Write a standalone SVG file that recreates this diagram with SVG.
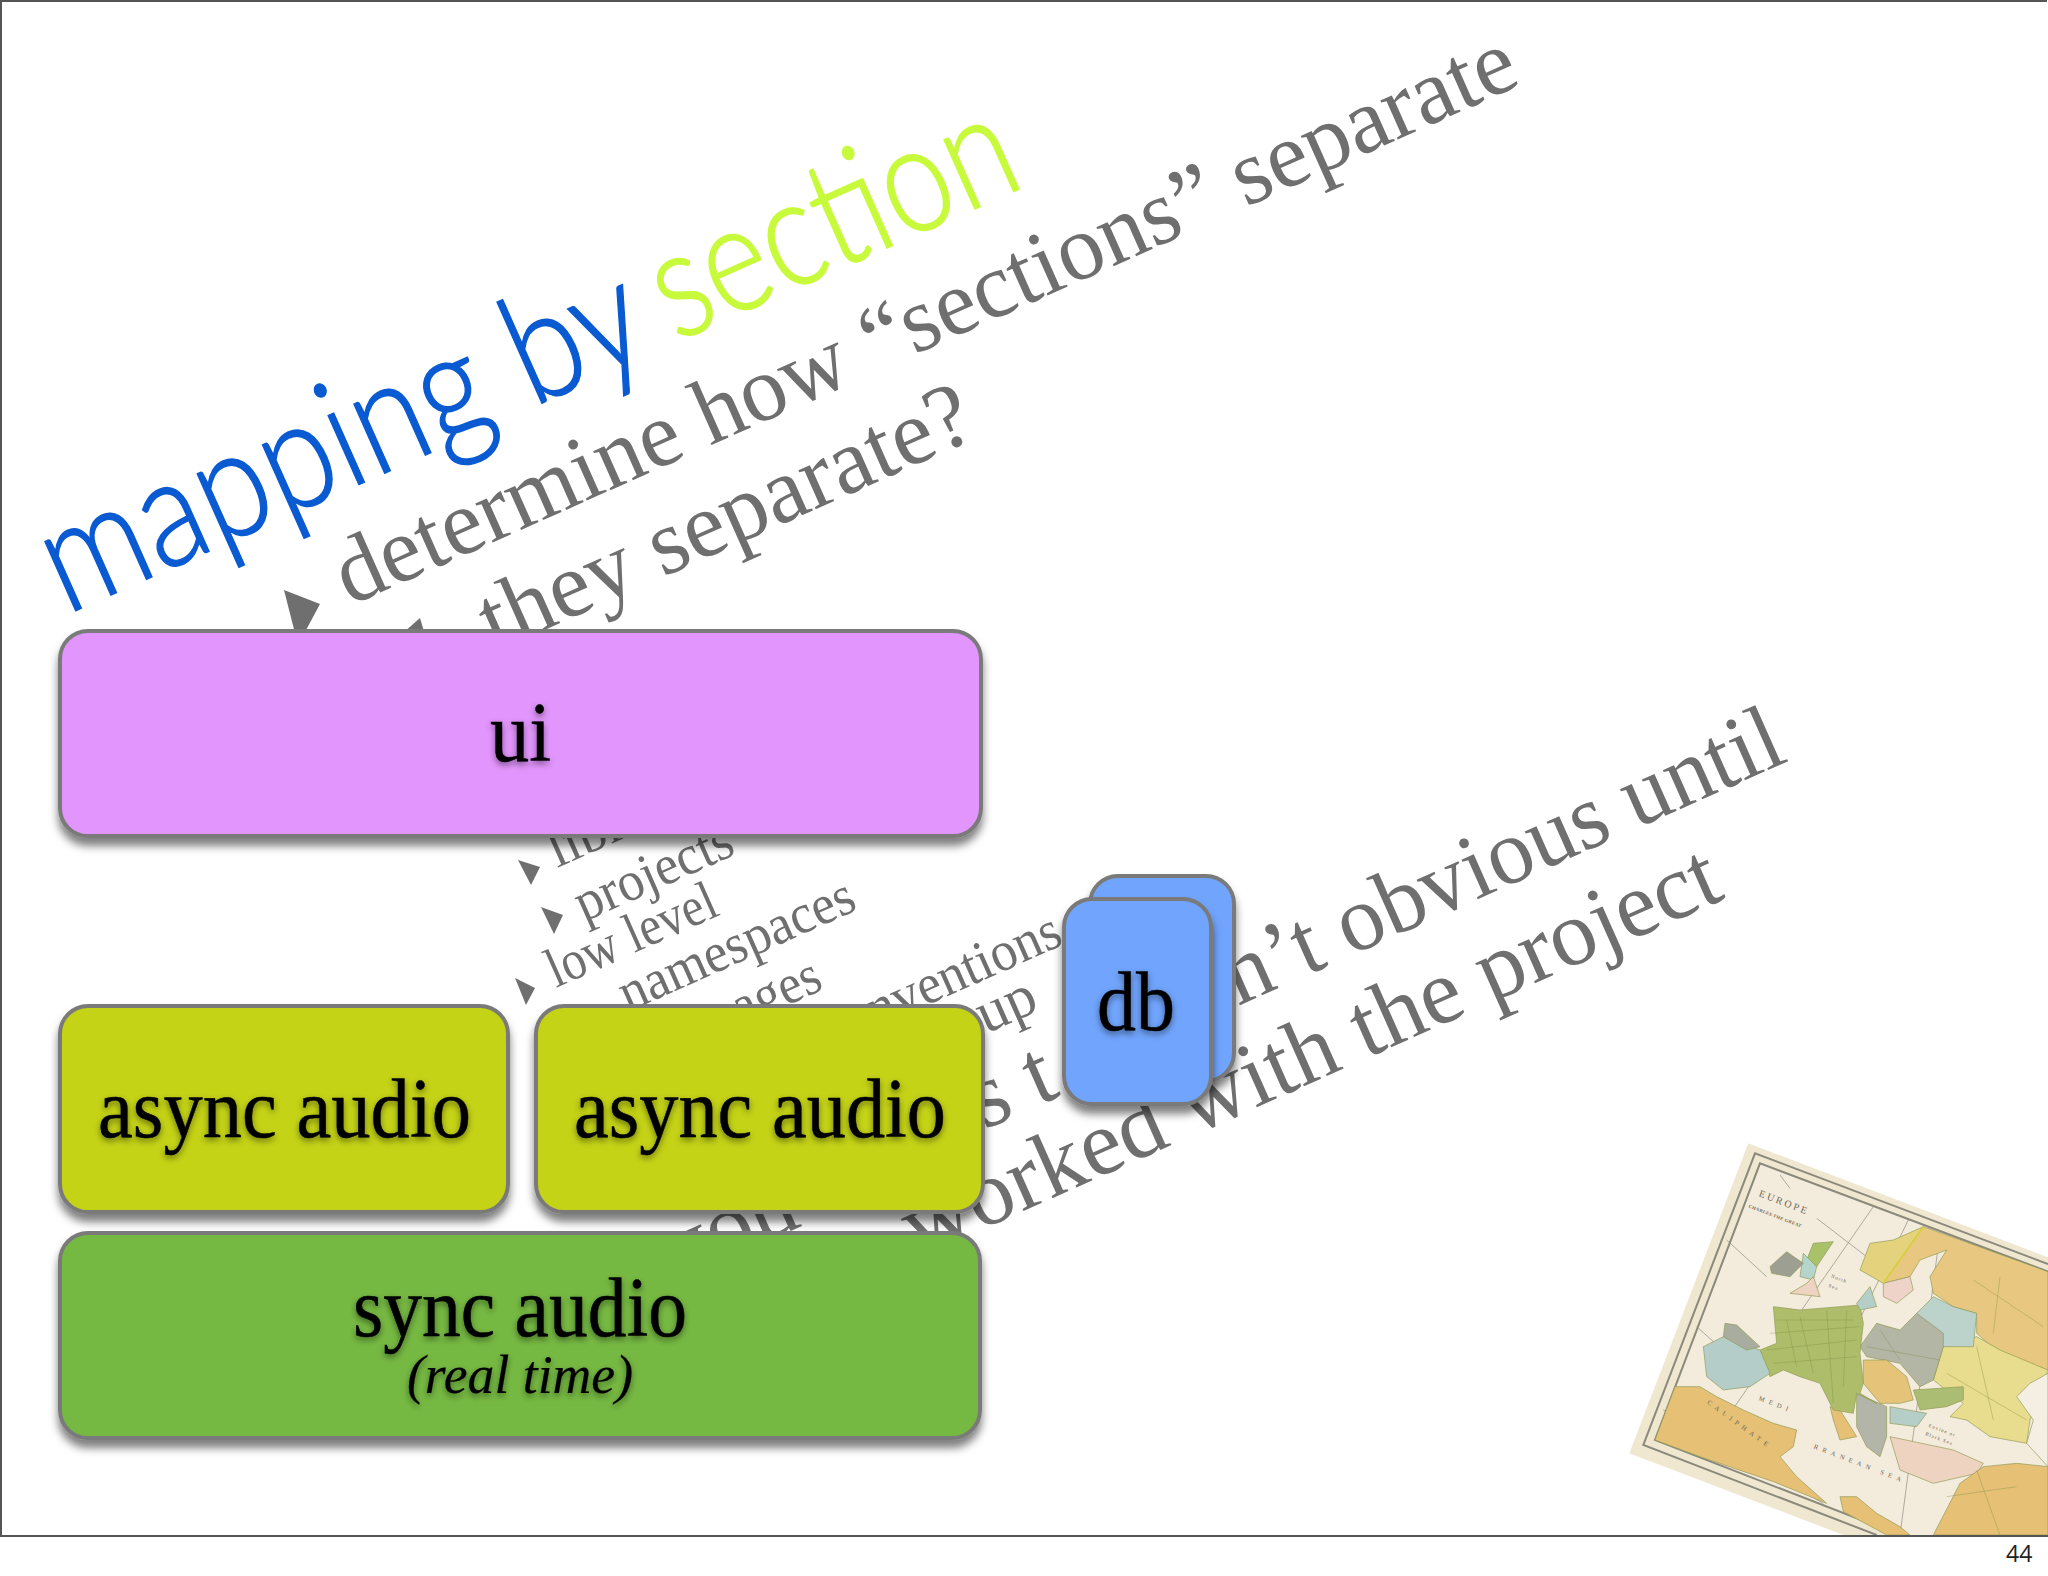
<svg xmlns="http://www.w3.org/2000/svg" width="2048" height="1576" viewBox="0 0 2048 1576">
<style>
.bg{font-family:"Liberation Serif","Times New Roman",serif;fill:#6f6f6f}
.big{font-size:93px}
.small{font-size:56px}
.title{font-family:Lato,"Open Sans",sans-serif;font-weight:300;font-size:152px;stroke-width:1.5}
.box{stroke:#7a7a7a;stroke-width:4;filter:url(#shadow)}
.label{font-family:"Liberation Serif","Times New Roman",serif;fill:#000;font-size:85px;stroke:#000;stroke-width:.5;filter:url(#ts)}
.sub{font-size:54px;font-style:italic;stroke-width:.2}
.mt{font-family:"Liberation Serif",serif;fill:#6b6656}
.ml{fill:none;stroke:#8a897c}
</style>
<defs>
<filter id="shadow" x="-10%" y="-10%" width="120%" height="125%"><feDropShadow dx="0" dy="8" stdDeviation="4" flood-color="#000" flood-opacity=".5"/></filter>
<filter id="ts" x="-10%" y="-20%" width="120%" height="150%"><feDropShadow dx="0" dy="3" stdDeviation="3" flood-color="#000" flood-opacity=".45"/></filter>
<filter id="soft"><feGaussianBlur stdDeviation="1"/></filter>
<clipPath id="mapclip"><rect x="0" y="0" width="1344" height="1245"/></clipPath>
</defs>
<rect width="2048" height="1576" fill="#fff"/>
<path d="M1 1536V1H2047" fill="none" stroke="#555" stroke-width="2"/>

<g id="map" transform="translate(1600 1120) scale(.33333)" clip-path="url(#mapclip)">
<polygon points="445,70 1344,412 1344,1245 730,1245 88,1000" fill="#efe7cf"/>
<polygon points="480,130 1344,455 1344,1245 900,1245 165,960" fill="#f3ebdc"/>
<g class="ml">
<path d="M1344,432 465,100 130,975 830,1245" stroke-width="6"/>
<path d="M1344,455 480,130 165,960 900,1245" stroke-width="6"/>
<path d="M540,165 570,205M820,260 300,1010M925,300 680,800M380,360 500,470M190,870 670,1150M1020,340 900,1245M290,620 380,700M650,295 800,410" stroke-width="2"/>
</g>
<g stroke="#8f9a55" stroke-width="2" filter="url(#soft)">
<polygon points="165,960 225,800 300,800 350,830 430,870 520,910 590,930 580,980 540,1010 590,1070 680,1150 520,1085 300,1010" fill="#e5c074"/>
<polygon points="720,1130 770,1130 830,1180 900,1220 930,1245 860,1245 730,1175" fill="#e5c074"/>
<polygon points="780,450 810,370 880,360 970,320 940,420 850,490" fill="#e4d27c"/>
<polygon points="970,320 1344,455 1344,750 1210,710 1130,640 1130,580 1060,560 1000,520 990,470 1040,390 960,420 930,470 850,490" fill="#e8c880"/>
<polygon points="1030,680 1130,650 1200,690 1344,750 1290,900 1280,970 1170,950 1100,900 1050,890 1090,850 1000,780" fill="#e8dc8e"/>
<polygon points="950,580 1000,530 1060,560 1130,580 1120,680 1030,680" fill="#bcd3cc"/>
<polygon points="780,680 830,610 900,630 950,580 1030,640 1030,680 1000,780 960,800 900,730 800,710" fill="#b3b5a5"/>
<polygon points="790,720 860,720 920,770 940,840 900,850 840,850 790,790" fill="#e5c47a"/>
<polygon points="940,810 1090,800 1090,840 1040,860 960,870" fill="#abbd72"/>
<polygon points="870,860 980,880 950,920 870,910" fill="#b5cfc8"/>
<polygon points="770,820 860,860 860,950 840,1010 800,980 770,920" fill="#b3b5a8"/>
<polygon points="690,860 720,870 770,950 720,960 700,900" fill="#e5c074"/>
<polygon points="520,560 600,570 780,555 790,610 780,700 790,790 780,820 830,850 770,820 760,880 700,870 660,790 600,770 550,750 510,770 480,690 530,670" fill="#aebd6a"/>
<polygon points="310,680 370,650 480,690 510,760 450,800 370,810 320,770" fill="#b5cdc8"/>
<polygon points="370,650 375,610 410,615 480,680 440,690" fill="#a9ada0"/>
<polygon points="640,370 700,365 650,440 620,420" fill="#a9c26a"/>
<polygon points="610,400 650,440 640,480 600,470" fill="#b5d5cc"/>
<polygon points="640,470 660,530 570,520 620,490" fill="#eed4c0"/>
<polygon points="510,440 560,395 610,430 570,470 515,460" fill="#9c9f92"/>
<polygon points="770,550 810,500 830,560 780,570" fill="#b5cfc8"/>
<polygon points="850,490 930,470 940,510 890,550 850,530" fill="#eed4c8"/>
<polygon points="870,950 1060,990 1150,1030 1130,1060 1000,1090 900,1050" fill="#eed4c0"/>
<polygon points="1344,760 1290,790 1250,830 1300,900 1280,970 1344,1040" fill="#f5eee2"/>
<polygon points="1344,1040 1344,1245 1000,1245 1080,1090 1150,1040 1250,1030" fill="#e5c074"/>
</g>
<path d="M530,600 760,600M510,640 780,620M500,690 770,660M520,730 770,710M600,590 640,760M680,570 700,850M740,570 730,800M560,600 590,740M800,680 1020,720M840,630 900,720M1040,760 1280,900M1130,680 1180,900M1120,480 1330,620M1200,470 1180,640M1040,1130 1250,1100M1130,1050 1200,1245" fill="none" stroke="#7d8a45" stroke-width="2" opacity=".55"/>
<path d="M970,320 850,490" stroke="#d8d03a" stroke-width="5" fill="none"/>
<g class="mt">
<text transform="translate(475 228) rotate(21)" font-size="30" letter-spacing="7">EUROPE</text>
<text transform="translate(445 262) rotate(21)" font-size="14" font-weight="bold" letter-spacing="1">CHARLES THE GREAT</text>
<text transform="translate(692 472) rotate(21)" font-size="15" letter-spacing="3">North</text>
<text transform="translate(685 500) rotate(21)" font-size="15" letter-spacing="3">Sea</text>
<text transform="translate(985 920) rotate(21)" font-size="15" letter-spacing="3">Euxine or</text>
<text transform="translate(975 945) rotate(21)" font-size="15" letter-spacing="3">Black Sea</text>
<text transform="translate(475 840) rotate(21)" font-size="20" letter-spacing="14">MEDI</text>
<text transform="translate(640 985) rotate(21)" font-size="20" letter-spacing="14">RRANEAN SEA</text>
<text transform="translate(320 850) rotate(36)" font-size="20" letter-spacing="14">CALIPHATE</text>
</g>
</g>
<path d="M0 1536H2048" stroke="#555" stroke-width="2"/>
<text x="2006" y="1562" font-family="'Open Sans',sans-serif" font-size="23" fill="#222">44</text>

<g id="title">
<text class="title" fill="#0a5ad2" stroke="#0a5ad2" transform="translate(66 615) rotate(-24)" textLength="645" lengthAdjust="spacingAndGlyphs">mapping by</text>
<text class="title" fill="#c8fa3c" stroke="#c8fa3c" transform="translate(676 342) rotate(-24)" textLength="385" lengthAdjust="spacingAndGlyphs">section</text>
</g>

<g id="body">
<g fill="#6f6f6f">
<polygon points="284,590 320,604 298,645"/>
<polygon points="395,640 420,618 428,645"/>
<polygon points="518,860 540,867 531,885"/>
<polygon points="541,907 563,915 554,934"/>
<polygon points="515,978 535,988 526,1005"/>
</g>
<text class="bg big" transform="translate(350 606) rotate(-24)" textLength="1284" lengthAdjust="spacingAndGlyphs">determine how “sections” separate</text>
<text class="bg big" transform="translate(495 652) rotate(-24)" textLength="530" lengthAdjust="spacingAndGlyphs">they separate?</text>
<text class="bg small" transform="translate(557 868) rotate(-24)">libr</text>
<text class="bg small" transform="translate(584 922) rotate(-24)" textLength="168" lengthAdjust="spacingAndGlyphs">projects</text>
<text class="bg small" transform="translate(556 988) rotate(-24)" textLength="181" lengthAdjust="spacingAndGlyphs">low level</text>
<text class="bg small" transform="translate(628 1012) rotate(-24)" textLength="253" lengthAdjust="spacingAndGlyphs">namespaces</text>
<text class="bg small" transform="translate(741 1026) rotate(-24)" textLength="92" lengthAdjust="spacingAndGlyphs">ages</text>
<text class="bg small" transform="translate(876 1028) rotate(-24)" textLength="207" lengthAdjust="spacingAndGlyphs">nventions</text>
<text class="bg small" transform="translate(986 1034) rotate(-24)" style="font-size:60px">up</text>
<text class="bg big" transform="translate(984 1130) rotate(-24)">s t</text>
<text class="bg big" transform="translate(1238 1006) rotate(-24)" textLength="604" lengthAdjust="spacingAndGlyphs">n’t obvious until</text>
<text class="bg big" transform="translate(676 1282) rotate(-24)">you</text>
<text class="bg big" transform="translate(918 1258) rotate(-24)" textLength="885" lengthAdjust="spacingAndGlyphs">worked with the project</text>
</g>

<g id="connectors"></g>

<g id="node-ui">
<rect class="box" x="60" y="631" width="921" height="205" rx="28" fill="#e295fd"/>
<text class="label" x="490" y="761" textLength="61" lengthAdjust="spacingAndGlyphs">ui</text>
</g>
<g id="node-async-1">
<rect class="box" x="60" y="1006" width="448" height="206" rx="28" fill="#c4d316"/>
<text class="label" x="98" y="1137" textLength="373" lengthAdjust="spacingAndGlyphs">async audio</text>
</g>
<g id="node-async-2">
<rect class="box" x="536" y="1006" width="447" height="206" rx="28" fill="#c4d316"/>
<text class="label" x="574" y="1137" textLength="372" lengthAdjust="spacingAndGlyphs">async audio</text>
</g>
<g id="node-sync">
<rect class="box" x="60" y="1233" width="920" height="205" rx="28" fill="#76b943"/>
<text class="label" x="353" y="1336" textLength="334" lengthAdjust="spacingAndGlyphs">sync audio</text>
<text class="label sub" x="407" y="1393" textLength="226" lengthAdjust="spacingAndGlyphs">(real time)</text>
</g>
<g id="node-db">
<rect class="box" x="1090" y="876" width="144" height="205" rx="28" fill="#6fa4fd"/>
<rect class="box" x="1064" y="899" width="147" height="205" rx="28" fill="#6fa4fd"/>
<text class="label" x="1097" y="1030" textLength="78" lengthAdjust="spacingAndGlyphs">db</text>
</g>
</svg>
